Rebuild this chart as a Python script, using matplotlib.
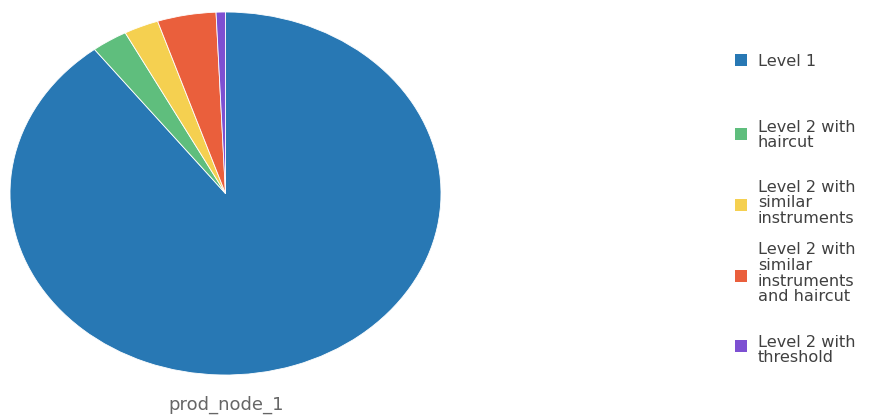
import matplotlib
matplotlib.use("Agg")
import matplotlib.pyplot as plt
from matplotlib.patches import Rectangle

# data (share of total, %)
categories = [
    "Level 1",
    "Level 2 with\nhaircut",
    "Level 2 with\nsimilar\ninstruments",
    "Level 2 with\nsimilar\ninstruments\nand haircut",
    "Level 2 with\nthreshold",
]
values = [89.6, 2.7, 2.6, 4.4, 0.7]
colors = ["#2878b4", "#5fbe7d", "#f5d050", "#ea5f3c", "#7d50d2"]
title = "prod_node_1"

W, H = 870, 416


def main():
    fig = plt.figure(figsize=(W / 100, H / 100), dpi=100)

    # pie is drawn as a stretched ellipse in the reference
    ax = fig.add_axes([10 / W, (H - 375) / H, 431 / W, 363 / H])
    ax.pie(values, colors=colors, startangle=90, counterclock=False,
           wedgeprops=dict(edgecolor="white", linewidth=0.6))
    ax.set_aspect("auto")
    ax.set_xlim(-1, 1)
    ax.set_ylim(-1, 1)
    ax.axis("off")

    # overlay in pixel coords for legend + caption
    ov = fig.add_axes([0, 0, 1, 1], zorder=5)
    ov.set_xlim(0, W)
    ov.set_ylim(H, 0)
    ov.axis("off")

    sq_centers = [60, 134, 205, 276, 346]
    first_baselines = [66, 131.7, 191.7, 254.3, 346.7]
    line_h = 15.7
    sq = 12
    for label, col, yc, yb in zip(categories, colors, sq_centers, first_baselines):
        ov.add_patch(Rectangle((735, yc - sq / 2), sq, sq, facecolor=col, edgecolor="none"))
        # one text per line: the reference packs lines very tightly
        for i, line in enumerate(label.split("\n")):
            ov.text(758, yb + i * line_h, line, fontsize=11.6, color="#404040",
                    va="baseline", ha="left")

    ov.text(226, 410, title, fontsize=13, color="#666666", ha="center", va="baseline")

    fig.savefig("out.png", dpi=100, facecolor="white")


if __name__ == "__main__":
    main()
